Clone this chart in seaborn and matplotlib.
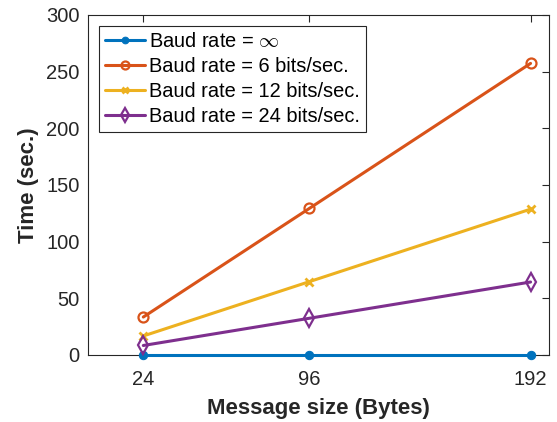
import matplotlib
matplotlib.use("Agg")
import matplotlib.pyplot as plt
import seaborn as sns
import pandas as pd

sizes = [24, 96, 192]
t_inf = [0, 0, 0]
t_6 = [33.5, 129.3, 257.3]
t_12 = [16.8, 64.7, 128.7]
t_24 = [8.4, 32.4, 64.4]
labels = [r"Baud rate = $\infty$", "Baud rate = 6 bits/sec.",
          "Baud rate = 12 bits/sec.", "Baud rate = 24 bits/sec."]
colors = ["#0072BD", "#D95319", "#EDB120", "#7E2F8E"]
xticks = [24, 96, 192]
yticks = [0, 50, 100, 150, 200, 250, 300]

sns.set_theme(style="white")
plt.rcParams['font.family'] = ['Liberation Sans', 'DejaVu Sans']
plt.rcParams['mathtext.fontset'] = 'cm'
axcol = "#262626"

fig = plt.figure(figsize=(5.57, 4.22), dpi=100)
ax = fig.add_axes([88/557, 1-355/422, 461/557, 340/422])

series = [t_inf, t_6, t_12, t_24]
styles = [
    dict(marker='o', markersize=6, markerfacecolor=colors[0], markeredgecolor=colors[0]),
    dict(marker='o', markersize=7.2, markerfacecolor='none', markeredgecolor=colors[1], markeredgewidth=1.6),
    dict(marker='x', markersize=6, markeredgecolor=colors[2], markeredgewidth=2),
    dict(marker='d', markersize=9, markerfacecolor='none', markeredgecolor=colors[3], markeredgewidth=1.6),
]
for vals, lab, col, st in zip(series, labels, colors, styles):
    df = pd.DataFrame({"size": sizes, "time": vals})
    sns.lineplot(data=df, x="size", y="time", ax=ax, color=col, linewidth=2.2,
                 label=lab, clip_on=False, zorder=3, **st)

ax.set_xlim(0, 200)
ax.set_ylim(0, 300)
ax.set_xticks(xticks)
ax.set_yticks(yticks)
ax.tick_params(direction='in', length=5, width=0.8, colors=axcol,
               labelsize=14.5, top=True, right=True, pad=6)
ax.tick_params(axis='x', pad=11)
for sp in ax.spines.values():
    sp.set_color(axcol)
    sp.set_linewidth(0.8)
ax.set_xlabel("Message size (Bytes)", fontsize=16, fontweight='bold', color=axcol, labelpad=6)
ax.set_ylabel("Time (sec.)", fontsize=16, fontweight='bold', color=axcol, labelpad=5)

leg = ax.legend(loc='upper left', bbox_to_anchor=(11/461, 329/340), borderaxespad=0,
                fontsize=14.4, fancybox=False, framealpha=1, edgecolor=axcol,
                handlelength=2.0, handletextpad=0.2, labelspacing=0.3,
                borderpad=0.3, markerscale=0.8)
leg.get_frame().set_linewidth(0.8)
leg.set_zorder(5)
for t in leg.get_texts():
    t.set_color('black')

fig.savefig("out.png", dpi=100, facecolor='white')
